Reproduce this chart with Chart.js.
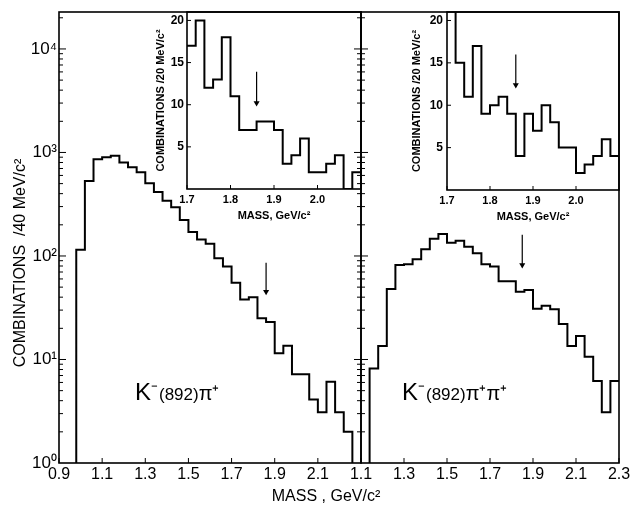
<!DOCTYPE html>
<html>
<head>
<meta charset="utf-8">
<script src="https://cdn.jsdelivr.net/npm/chart.js@4.4.1/dist/chart.umd.min.js"></script>
<style>
  html, body { margin: 0; padding: 0; background: #fff; }
  #wrap { position: relative; width: 630px; height: 514px; }
  #wrap canvas { position: absolute; left: 0; top: 0; }
</style>
</head>
<body>
<div id="wrap">
  <canvas id="mainLeft" width="630" height="514"></canvas>
  <canvas id="mainRight" width="630" height="514"></canvas>
  <canvas id="insetLeft" width="630" height="514"></canvas>
  <canvas id="insetRight" width="630" height="514"></canvas>
</div>
<script>
// counts per 40 MeV bin, main panels
const binWidth = 0.04;
const leftStart = 0.98;
const leftCounts = [115, 530, 860, 900, 930, 800, 720, 645, 505, 415, 342, 295, 223, 170, 144, 131,
  95, 79, 55, 38, 40, 25, 23, 11.5, 13.6, 7.2, 7.2, 4.1, 3.1, 6.1, 3.1, 2.0];
const rightStart = 1.14;
const rightCounts = [8.2, 13.5, 48, 82, 83, 93, 116, 147, 163, 134, 140, 123, 106, 83, 79, 57, 57,
  45, 47, 31, 33, 30.5, 22, 13.5, 16.9, 10.6, 6.2, 3.1, 6.2];

// counts per 20 MeV bin, insets
const insetWidth = 0.02;
const insetStart = 1.70;
const insetLeftCounts = [17, 20, 12, 13, 18, 11, 7, 7, 8, 8, 7, 3, 4, 6, 2, 2, 3, 4, 0, 2];
const insetRightCounts = [22, 15, 11, 17, 9, 10, 11, 9, 4, 9, 7, 10, 8, 5, 5, 2, 3, 4, 6, 4];

// arrows: [mass, top, tip]
const arrowMainLeft = [1.86, 86, 45];
const arrowMainRight = [1.85, 160, 82];
const arrowInsetLeft = [1.86, 13.9, 10.2];
const arrowInsetRight = [1.86, 16, 12.4];

// ticks
const logTicks = [1, 10, 100, 1000, 10000];
const logLabels = ["10\u2070", "10\u00b9", "10\u00b2", "10\u00b3", "10\u2074"];
const leftMassTicks = [0.9, 1.1, 1.3, 1.5, 1.7, 1.9, 2.1];
const rightMassTicks = [1.1, 1.3, 1.5, 1.7, 1.9, 2.1, 2.3];
const insetMassTicks = [1.7, 1.8, 1.9, 2.0];
const insetCountTicks = [5, 10, 15, 20];

const FONT = "'Liberation Sans', Arial, sans-serif";
const yMaxLog = 22750;

// points at bin edges; with stepped "before" each count holds until the next edge
function stepPoints(start, width, counts, floorStart, floorEnd) {
  const pts = [];
  if (floorStart !== null) pts.push({ x: start, y: floorStart });
  counts.forEach((c, i) => pts.push({ x: +(start + i * width).toFixed(3), y: c }));
  const end = +(start + counts.length * width).toFixed(3);
  pts.push({ x: end, y: counts[counts.length - 1] });
  if (floorEnd !== null) pts.push({ x: end, y: floorEnd });
  return pts;
}

function histDataset(points) {
  return {
    data: points, stepped: "before", borderColor: "#000", borderWidth: 2,
    pointRadius: 0, fill: false, tension: 0
  };
}

function arrowDataset(a) {
  return {
    data: [{ x: a[0], y: a[1] }, { x: a[0], y: a[2] }],
    borderColor: "#000", borderWidth: 1.2, fill: false,
    pointRadius: [0, 3.5], pointStyle: "triangle", rotation: 180,
    pointBackgroundColor: "#000", pointBorderWidth: 0
  };
}

function fixedTicks(values) {
  return s => { s.ticks = values.map(v => ({ value: v })); };
}

function fitTo(size) {
  return s => {
    if (s.isHorizontal()) s.height = size; else s.width = size;
    s.paddingTop = 0; s.paddingBottom = 0; s.paddingLeft = 0; s.paddingRight = 0;
  };
}

function massAxis(min, max, ticks) {
  return {
    type: "linear", min, max,
    afterBuildTicks: fixedTicks(ticks),
    afterFit: fitTo(51),
    ticks: { callback: v => v.toFixed(1), font: { family: FONT, size: 16 }, color: "#000",
      padding: 2, maxRotation: 0, autoSkip: false },
    grid: { display: false, drawTicks: false },
    border: { display: false }
  };
}

function logAxis(display) {
  return {
    type: "logarithmic", min: 1, max: yMaxLog, display,
    afterBuildTicks: fixedTicks(logTicks),
    afterFit: fitTo(display ? 59 : 0),
    ticks: { callback: v => logLabels[logTicks.indexOf(v)] || "", font: { family: FONT, size: 17 },
      color: "#000", padding: 2, autoSkip: false },
    grid: { display: false, drawTicks: false },
    border: { display: false }
  };
}

function insetAxes(yWidth, yPad) {
  return {
    x: {
      type: "linear", min: 1.7, max: 2.1,
      afterBuildTicks: fixedTicks(insetMassTicks),
      afterFit: fitTo(38),
      ticks: { callback: v => v.toFixed(1), font: { family: FONT, size: 11, weight: "bold" },
        color: "#000", padding: 4, maxRotation: 0, autoSkip: false },
      title: { display: true, text: "MASS, GeV/c\u00b2", color: "#000",
        font: { family: FONT, size: 11, weight: "bold" }, padding: { top: 0, bottom: 4 } },
      grid: { display: false, drawTicks: false },
      border: { display: false }
    },
    y: {
      type: "linear", min: 0, max: 21,
      afterBuildTicks: fixedTicks(insetCountTicks),
      afterFit: fitTo(yWidth),
      ticks: { font: { family: FONT, size: 12, weight: "bold" }, color: "#000", padding: yPad, autoSkip: false },
      title: { display: true, text: "COMBINATIONS /20 MeV/c\u00b2", color: "#000",
        font: { family: FONT, size: 11, weight: "bold" }, padding: { top: 4, bottom: 0 } },
      grid: { display: false, drawTicks: false },
      border: { display: false }
    }
  };
}

// tick marks drawn inward, like the original
function logTickMarks() {
  const out = [];
  for (let i = 0; i < logTicks.length; i++) {
    for (let m = 1; m <= 9; m++) {
      const v = logTicks[i] * m;
      if (v <= yMaxLog) out.push({ v, len: m === 1 ? 7 : 4 });
    }
  }
  return out;
}

function drawRuns(ctx, x, y, runs) {
  ctx.textBaseline = "alphabetic";
  ctx.textAlign = "left";
  runs.forEach(r => {
    ctx.font = r[1] + "px " + FONT;
    ctx.fillText(r[0], x, y + (r[2] || 0));
    x += ctx.measureText(r[0]).width + (r[3] || 0);
  });
}

function panelPlugin(spec) {
  return {
    id: "panel",
    afterDatasetsDraw(chart) {
      const { ctx, chartArea: a, scales } = chart;
      ctx.save();
      ctx.strokeStyle = "#000";
      ctx.fillStyle = "#000";
      ctx.lineWidth = 1.6;
      ctx.strokeRect(a.left, a.top, a.right - a.left, a.bottom - a.top);
      ctx.lineWidth = 1;
      ctx.beginPath();
      (spec.yTicks || []).forEach(t => {
        const y = scales.y.getPixelForValue(t.v);
        if (y < a.top + 1 || y > a.bottom - 1) return;
        if (spec.yLeft) { ctx.moveTo(a.left, y); ctx.lineTo(a.left + t.len, y); }
        if (spec.yRight) { ctx.moveTo(a.right, y); ctx.lineTo(a.right - t.len, y); }
      });
      (spec.xTicks || []).forEach(v => {
        const x = scales.x.getPixelForValue(v);
        ctx.moveTo(x, a.bottom); ctx.lineTo(x, a.bottom - (spec.xLen || 5));
      });
      ctx.stroke();
      if (spec.text) spec.text(ctx);
      ctx.restore();
    }
  };
}

const logMarks = logTickMarks();
const linMarks = insetCountTicks.map(v => ({ v, len: 4 }));

new Chart(document.getElementById("mainLeft"), {
  type: "line",
  data: { datasets: [
    histDataset(stepPoints(leftStart, binWidth, leftCounts, 0.3, 0.3)),
    arrowDataset(arrowMainLeft)
  ] },
  options: {
    responsive: false, animation: false,
    layout: { padding: { left: 0, top: 12, right: 269, bottom: 0 } },
    plugins: { legend: { display: false }, tooltip: { enabled: false } },
    scales: { x: massAxis(0.9, 2.3, leftMassTicks), y: logAxis(true) }
  },
  plugins: [panelPlugin({
    yTicks: logMarks, yLeft: true, yRight: true, xTicks: leftMassTicks,
    text(ctx) {
      ctx.font = "16px " + FONT;
      ctx.textAlign = "center";
      ctx.textBaseline = "middle";
      ctx.save();
      ctx.translate(21, 263);
      ctx.rotate(-Math.PI / 2);
      ctx.fillText("COMBINATIONS  /40 MeV/c\u00b2", 0, 0);
      ctx.restore();
      ctx.fillText("MASS , GeV/c\u00b2", 326, 497);
      drawRuns(ctx, 135, 400, [["K", 24], ["\u207b", 20, -2, 1], ["(892)", 17], ["\u03c0\u207a", 20]]);
    }
  })]
});

new Chart(document.getElementById("mainRight"), {
  type: "line",
  data: { datasets: [
    histDataset(stepPoints(rightStart, binWidth, rightCounts, 0.3, null)),
    arrowDataset(arrowMainRight)
  ] },
  options: {
    responsive: false, animation: false,
    layout: { padding: { left: 361, top: 12, right: 11, bottom: 0 } },
    plugins: { legend: { display: false }, tooltip: { enabled: false } },
    scales: { x: massAxis(1.1, 2.3, rightMassTicks), y: logAxis(false) }
  },
  plugins: [panelPlugin({
    yTicks: logMarks, yLeft: true, xTicks: rightMassTicks,
    text(ctx) {
      ctx.fillStyle = "#000";
      drawRuns(ctx, 402, 400, [["K", 24], ["\u207b", 20, -2, 1], ["(892)", 17], ["\u03c0\u207a\u03c0\u207a", 20]]);
    }
  })]
});

new Chart(document.getElementById("insetLeft"), {
  type: "line",
  data: { datasets: [
    histDataset(stepPoints(insetStart, insetWidth, insetLeftCounts, null, null)),
    arrowDataset(arrowInsetLeft)
  ] },
  options: {
    responsive: false, animation: false,
    layout: { padding: { left: 150, top: 12, right: 269, bottom: 287 } },
    plugins: { legend: { display: false }, tooltip: { enabled: false } },
    scales: insetAxes(37, 3)
  },
  plugins: [panelPlugin({ yTicks: linMarks, yLeft: true, xTicks: insetMassTicks, xLen: 4 })]
});

new Chart(document.getElementById("insetRight"), {
  type: "line",
  data: { datasets: [
    histDataset(stepPoints(insetStart, insetWidth, insetRightCounts, null, null)),
    arrowDataset(arrowInsetRight)
  ] },
  options: {
    responsive: false, animation: false,
    layout: { padding: { left: 406, top: 12, right: 11, bottom: 286 } },
    plugins: { legend: { display: false }, tooltip: { enabled: false } },
    scales: insetAxes(41, 4)
  },
  plugins: [panelPlugin({ yTicks: linMarks, yLeft: true, xTicks: insetMassTicks, xLen: 4 })]
});
</script>
</body>
</html>
